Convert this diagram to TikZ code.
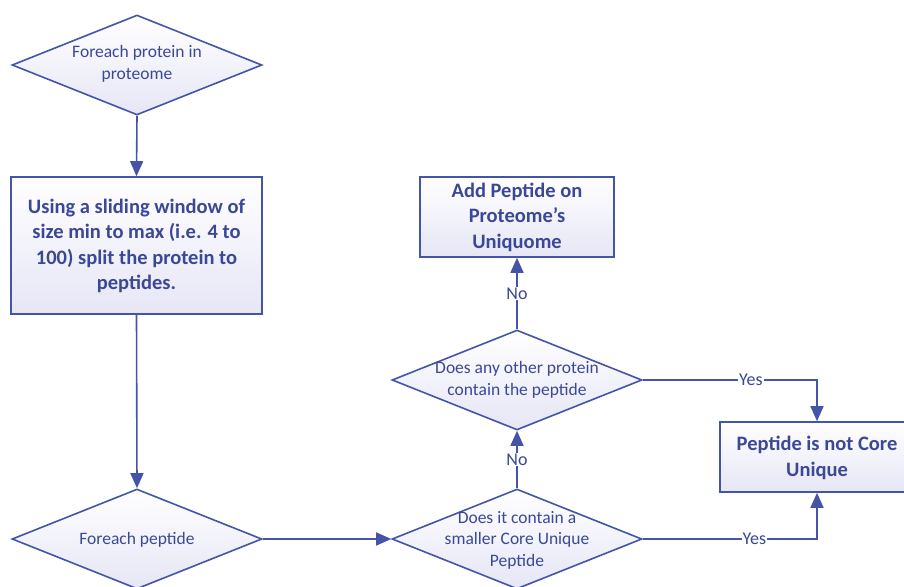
\documentclass[tikz,border=0pt]{standalone}
\usepackage{fontspec}
\setmainfont{Carlito}
\usetikzlibrary{shapes.geometric,arrows.meta}
\definecolor{lineblue}{RGB}{68,84,168}
\definecolor{textblue}{RGB}{58,72,150}
\definecolor{lav}{RGB}{230,230,246}
\tikzset{
  dia/.style={draw=lineblue, line width=1.6pt, shape=diamond, aspect=2.5,
    minimum width=250pt, minimum height=100pt, inner sep=0pt,
    top color=white, bottom color=lav},
  boxnode/.style={draw=lineblue, line width=1.6pt, rectangle,
    top color=white, bottom color=lav, inner sep=0pt},
  smalltext/.style={text=textblue, font=\fontsize{17.5}{21.5}\selectfont, align=center},
  bigtext/.style={text=textblue, font=\bfseries\fontsize{20.5}{25.5}\selectfont, align=center},
  conn/.style={draw=lineblue, line width=1.6pt, -{Triangle[width=13pt,length=15pt]}},
  lbl/.style={fill=white, text=textblue, font=\fontsize{18}{20}\selectfont, inner sep=1pt}
}
\begin{document}
\begin{tikzpicture}[x=1pt,y=-1pt]
\useasboundingbox (0,0) rectangle (904,586);
% shapes
\node[dia] (d1) at (137,65) {};
\node[smalltext] (t1) at (137,64) {Foreach protein in\\proteome};
\node[boxnode, minimum width=251pt, minimum height=137pt] (b1) at (136.5,245.5) {};
\node[bigtext] (tb1) at (136.5,246) {Using a sliding window of\\size min to max (i.e. 4 to\\100) split the protein to\\peptides.};
\node[dia] (d2) at (137,539) {};
\node[smalltext] (t2) at (137,540) {Foreach peptide};
\node[dia] (d3) at (517,539) {};
\node[smalltext] (t3) at (517,540) {Does it contain a\\smaller Core Unique\\Peptide};
\node[dia] (d4) at (517,380) {};
\node[smalltext] (t4) at (517,380) {Does any other protein\\contain the peptide};
\node[boxnode, minimum width=194pt, minimum height=80pt] (b2) at (517,217) {};
\node[bigtext] (tb2) at (517,217) {Add Peptide on\\Proteome’s\\Uniquome};
\node[boxnode, minimum width=194pt, minimum height=70pt] (b3) at (817,457) {};
\node[bigtext] (tb3) at (817,458) {Peptide is not Core\\Unique};
% connectors
\draw[conn] (d1.south) -- (b1.north);
\draw[conn] (b1.south) -- (d2.north);
\draw[conn] (d2.east) -- (d3.west);
\draw[conn] (d3.north) -- node[lbl] {No} (d4.south);
\draw[conn] (d4.north) -- node[lbl] {No} (b2.south);
\draw[conn] (d4.east) -| node[lbl, pos=0.31] {Yes} (b3.north);
\draw[conn] (d3.east) -| node[lbl, pos=0.32] {Yes} (b3.south);
\end{tikzpicture}
\end{document}
